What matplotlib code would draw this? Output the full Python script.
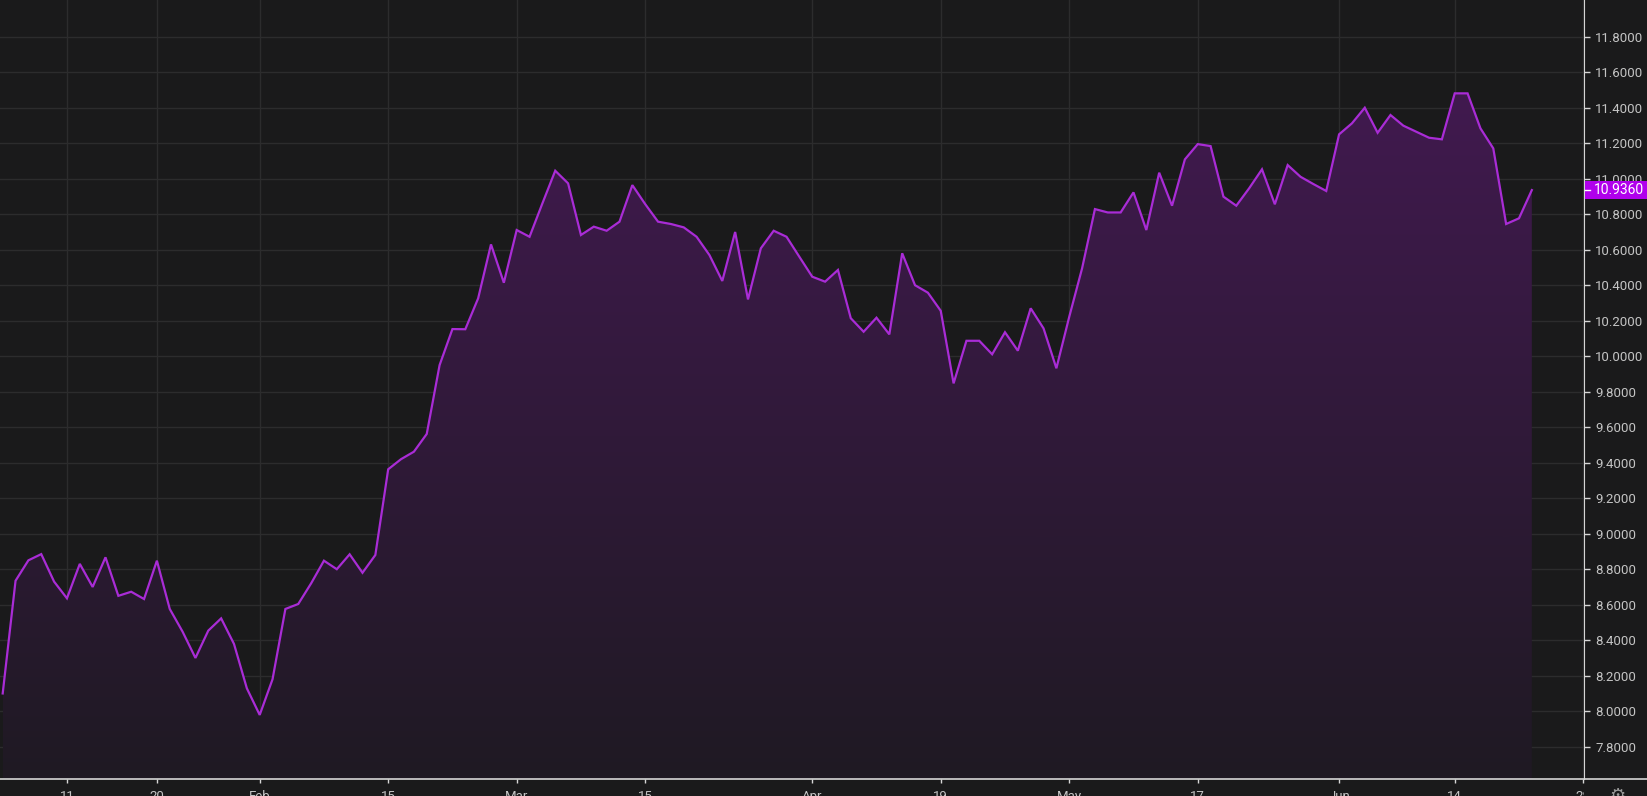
import numpy as np
import matplotlib
matplotlib.use("Agg")
import matplotlib.pyplot as plt
from matplotlib.colors import LinearSegmentedColormap
from matplotlib.patches import Polygon, Rectangle
from matplotlib.lines import Line2D
from matplotlib.transforms import Bbox, TransformedBbox, blended_transform_factory

# ----------------------------
# Data (daily closes)
# ----------------------------
closes = [
    8.100, 8.735, 8.850, 8.885, 8.730, 8.636, 8.830, 8.700, 8.867, 8.650,
    8.673, 8.632, 8.848, 8.576, 8.448, 8.300, 8.454, 8.523, 8.379, 8.129,
    7.979, 8.180, 8.576, 8.604, 8.720, 8.848, 8.800, 8.884, 8.780, 8.880,
    9.363, 9.420, 9.462, 9.562, 9.950, 10.153, 10.152, 10.326, 10.630, 10.414,
    10.711, 10.673, 10.861, 11.045, 10.974, 10.683, 10.730, 10.707, 10.758, 10.964,
    10.857, 10.758, 10.745, 10.726, 10.673, 10.570, 10.424, 10.700, 10.320, 10.608,
    10.707, 10.673, 10.560, 10.448, 10.420, 10.486, 10.214, 10.138, 10.217, 10.123,
    10.580, 10.400, 10.358, 10.256, 9.847, 10.087, 10.087, 10.011, 10.135, 10.031,
    10.270, 10.157, 9.932, 10.222, 10.495, 10.829, 10.810, 10.810, 10.923, 10.711,
    11.034, 10.848, 11.109, 11.195, 11.184, 10.899, 10.848, 10.946, 11.053, 10.856,
    11.077, 11.011, 10.970, 10.931, 11.250, 11.312, 11.400, 11.259, 11.359, 11.299,
    11.265, 11.231, 11.222, 11.481, 11.481, 11.284, 11.171, 10.745, 10.777, 10.936,
]
last_price = 10.936

date_tick_idx = [5, 12, 20, 30, 40, 50, 63, 73, 83, 93, 104, 113, 123]
date_tick_lbl = ["11", "20", "Feb", "15", "Mar", "15", "Apr", "19", "May", "17", "Jun", "14", "28"]

price_ticks = [7.8, 8.0, 8.2, 8.4, 8.6, 8.8, 9.0, 9.2, 9.4, 9.6, 9.8,
               10.0, 10.2, 10.4, 10.6, 10.8, 11.0, 11.2, 11.4, 11.6, 11.8]

# ----------------------------
# Styling
# ----------------------------
bg = "#1a1a1b"
grid_col = "#2c2c2d"
line_col = "#a92cd6"
text_col = "#c4c4c4"
axis_col = "#d6d6d6"
badge_col = "#b000ec"

plt.rcParams["font.family"] = ["Roboto", "DejaVu Sans"]

W, H = 1647, 796
fig = plt.figure(figsize=(W / 100, H / 100), dpi=100, facecolor=bg)
ax = fig.add_axes([0, 17 / H, 1584 / W, 1 - 17 / H])
ax.set_facecolor(bg)

x = np.arange(len(closes))
y = np.array(closes)
ylo, yhi = 7.618, 12.007

# gradient area under the line
grad = np.linspace(0, 1, 256).reshape(-1, 1)
cmap = LinearSegmentedColormap.from_list("g", ["#1f1a23", "#41194f"])
im = ax.imshow(grad, extent=[x[0], x[-1], ylo, y.max()], origin="lower",
               aspect="auto", cmap=cmap, zorder=1, interpolation="bicubic")
poly = Polygon(np.vstack([np.column_stack([x, y]), [[x[-1], ylo], [x[0], ylo]]]),
               closed=True, facecolor="none", edgecolor="none")
ax.add_patch(poly)
im.set_clip_path(poly)

ax.plot(x, y, color=line_col, linewidth=1.6, zorder=3, solid_joinstyle="miter")

ax.set_xlim(-0.21, 123.06)
ax.set_ylim(ylo, yhi)

ax.set_xticks(date_tick_idx)
ax.set_xticklabels(date_tick_lbl)
ax.set_yticks(price_ticks)
ax.set_yticklabels([f"{v:.4f}" for v in price_ticks])
ax.yaxis.tick_right()

ax.grid(True, color=grid_col, linewidth=1.0)
ax.set_axisbelow(True)

ax.tick_params(axis="x", colors=axis_col, labelcolor=text_col, length=3, width=1,
               pad=5, labelsize=9.5)
ax.tick_params(axis="y", colors=axis_col, labelcolor=text_col, length=4, width=1,
               pad=4, labelsize=9.5)

for s in ["top", "left"]:
    ax.spines[s].set_visible(False)
ax.spines["right"].set_color(axis_col)
ax.spines["bottom"].set_visible(False)

# bottom axis line spans the full width (under the price scale too)
fig.add_artist(Line2D([0, 1], [1 - 779 / H, 1 - 779 / H], transform=fig.transFigure,
                      color=axis_col, linewidth=1.2))

# last date label is hidden behind the price scale
last_lbl = ax.get_xticklabels()[-1]
last_lbl.set_clip_on(True)
last_lbl.set_clip_box(TransformedBbox(Bbox([[0, 0], [1584 / W, 1]]), fig.transFigure))

# last price badge
tr = blended_transform_factory(fig.transFigure, ax.transData)
badge_h = (yhi - ylo) / 779 * 18
fig.add_artist(Rectangle((1585 / W, last_price - badge_h / 2), 1 - 1585 / W, badge_h,
                         transform=tr, facecolor=badge_col, edgecolor="none", zorder=5))
fig.add_artist(Line2D([1585 / W, 1590 / W], [last_price, last_price], transform=tr,
                      color="white", linewidth=1, zorder=6))
fig.text(1594 / W, last_price, f"{last_price:.4f}", transform=tr, color="white",
         fontsize=10, va="center", ha="left", zorder=7)

# settings gear in the corner
fig.text(1617 / W, 1 - 787 / H, "\u2699", color="#9a9a9a", fontsize=13,
         ha="center", va="top", family=["DejaVu Sans"])

fig.savefig("out.png", dpi=100, facecolor=bg)
